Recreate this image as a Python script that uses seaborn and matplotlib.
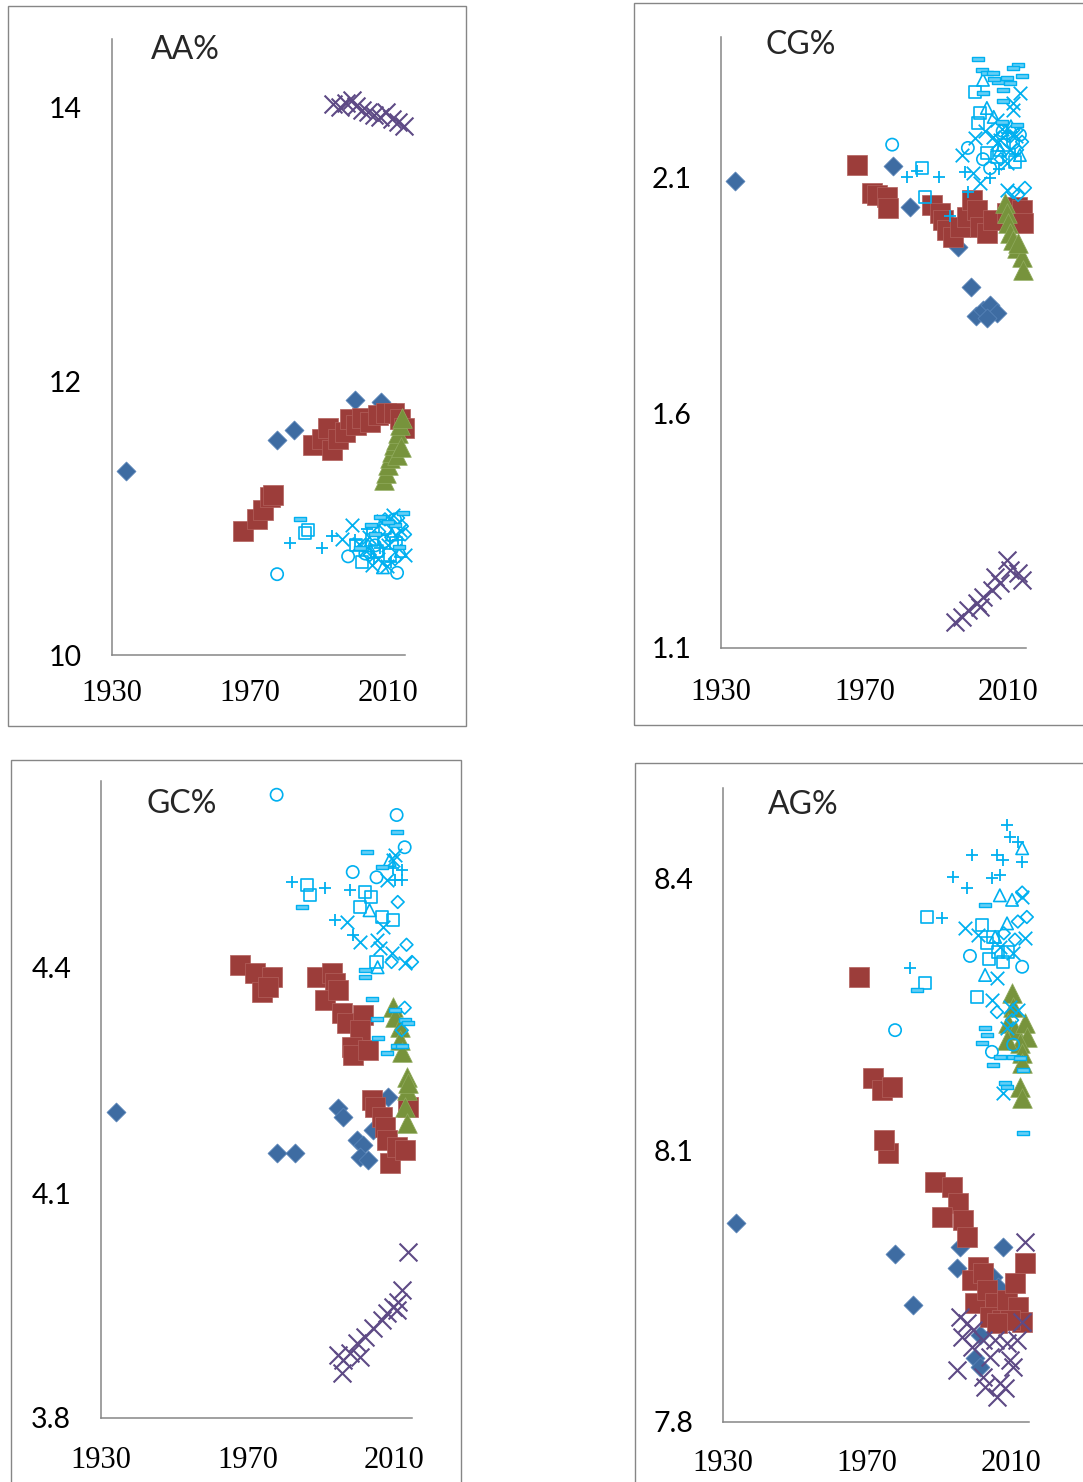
import matplotlib
matplotlib.use("Agg")
import matplotlib.pyplot as plt
from matplotlib.patches import Rectangle
from matplotlib.path import Path
import seaborn as sns

sns.set_style("white")
plt.rcParams["font.family"] = ["Lato", "DejaVu Sans"]

# ---------------------------------------------------------------- data
# each list holds (year, percent) pairs

# AA%
aa_diamond = [(1934.0, 11.34), (1977.9, 11.57), (1982.7, 11.64), (2000.6, 11.86), (2007.9, 11.85)]
aa_square = [(1968.0, 10.905), (1972.1, 10.99), (1973.8, 11.06), (1975.9, 11.15), (1976.7, 11.17),
             (1988.3, 11.53), (1990.9, 11.58), (1992.7, 11.66), (1993.8, 11.50), (1995.6, 11.58),
             (1997.6, 11.63), (1999.0, 11.72), (2000.8, 11.68), (2002.5, 11.73), (2004.8, 11.70),
             (2007.2, 11.75), (2009.5, 11.77), (2011.8, 11.77), (2013.5, 11.72), (2014.7, 11.66)]
aa_triangle = [(2008.9, 11.28), (2009.5, 11.33), (2010.1, 11.39), (2010.6, 11.44), (2011.2, 11.48),
               (2011.8, 11.53), (2012.4, 11.57), (2013.0, 11.62), (2013.5, 11.68), (2014.1, 11.73),
               (2012.7, 11.46), (2013.8, 11.52)]
aa_cross = [(1994.1, 14.02), (1996.1, 14.00), (1997.9, 14.03), (1999.6, 14.05), (2000.8, 14.01),
            (2002.5, 13.98), (2004.3, 13.96), (2006.0, 13.94), (2007.7, 13.93), (2009.5, 13.96),
            (2011.2, 13.91), (2013.0, 13.89), (2014.7, 13.86)]
aa_circle = [(1977.9, 10.59), (1998.5, 10.72), (2012.7, 10.60), (2006.3, 10.80), (2012.1, 10.99),
             (2003.5, 10.74), (2009.0, 10.83)]
aa_open_square = [(1986.0, 10.89), (1986.9, 10.91), (2002.5, 10.68), (2005.4, 10.84), (2009.2, 10.93),
                  (2010.6, 10.73), (2007.0, 10.76), (2012.5, 10.82), (2000.8, 10.80)]
aa_plus = [(1981.6, 10.82), (1990.9, 10.78), (1993.8, 10.87), (2000.5, 10.84), (2007.7, 10.78),
           (2013.0, 10.84), (2004.0, 10.92), (2010.8, 10.68), (2006.0, 10.71)]
aa_x = [(1999.6, 10.95), (1996.7, 10.85), (2003.4, 10.77), (2007.2, 10.70), (2010.1, 10.80),
        (2013.5, 10.91), (2011.5, 11.02), (2015.0, 10.73), (2005.5, 10.66), (2008.5, 10.98),
        (2001.8, 10.81), (2009.8, 10.65), (2004.6, 10.86)]
aa_open_diamond = [(2009.2, 10.99), (2014.1, 10.94), (2012.1, 10.70), (2004.8, 10.73), (2015.0, 10.88),
                   (2011.0, 10.86), (2007.5, 10.90), (2013.0, 11.00)]
aa_open_triangle = [(2008.6, 10.64), (2004.3, 10.80), (2011.2, 10.88), (2013.8, 10.76)]
aa_dash = [(1984.5, 10.99), (2007.7, 11.01), (2012.1, 10.95), (2014.4, 11.04), (2002.0, 10.78),
           (2006.3, 10.88), (2010.0, 10.97), (2013.2, 10.79), (2005.0, 10.95)]

# CG%
cg_diamond = [(1933.9, 2.094), (1977.9, 2.126), (1982.7, 2.038), (1996.0, 1.953), (1999.7, 1.868),
              (2001.1, 1.806), (2003.0, 1.819), (2005.0, 1.830), (2006.9, 1.813), (2004.1, 1.802)]
cg_square = [(1967.9, 2.128), (1972.1, 2.068), (1973.5, 2.064), (1976.3, 2.060), (1976.5, 2.036),
             (1988.8, 2.043), (1991.0, 2.026), (1991.9, 2.011), (1993.0, 1.990), (1994.7, 1.975),
             (1996.6, 1.996), (1998.6, 2.017), (2000.0, 2.053), (2001.3, 2.032), (2002.2, 1.996),
             (2004.1, 1.983), (2005.8, 2.011), (2009.7, 2.026), (2012.5, 2.038), (2013.9, 2.032),
             (2014.2, 2.004)]
cg_triangle = [(2009.2, 2.047), (2009.7, 2.026), (2010.0, 2.004), (2010.5, 1.983), (2011.4, 1.968),
               (2012.5, 1.951), (2013.9, 1.932), (2014.2, 1.904), (2012.8, 1.962)]
cg_cross = [(1995.2, 1.155), (1997.2, 1.166), (1998.8, 1.181), (2001.3, 1.196), (2003.0, 1.209),
            (2005.5, 1.223), (2007.8, 1.238), (2009.7, 1.287), (2010.5, 1.266), (2012.8, 1.260),
            (2013.9, 1.245), (2006.4, 1.251), (2002.2, 1.187)]
cg_circle = [(1977.7, 2.171), (1998.8, 2.164), (2005.0, 2.121), (2013.3, 2.192), (2011.4, 2.175),
             (2008.5, 2.200), (2003.0, 2.140)]
cg_open_square = [(2000.8, 2.283), (2002.2, 2.238), (2001.6, 2.217), (2004.1, 2.153), (1986.0, 2.121),
                  (1986.9, 2.060), (2006.9, 2.145), (2009.0, 2.170), (2011.8, 2.135)]
cg_plus = [(1981.8, 2.102), (1990.8, 2.102), (1998.0, 2.113), (1998.8, 2.070), (1993.8, 2.019),
           (2005.0, 2.100), (2009.7, 2.196), (1984.6, 2.115), (2007.5, 2.120), (2012.0, 2.150)]
cg_x = [(1997.2, 2.149), (2000.8, 2.185), (2000.2, 2.111), (2002.2, 2.090), (2013.3, 2.281),
        (2011.4, 2.260), (2011.4, 2.245), (2006.9, 2.224), (2005.8, 2.187), (2009.7, 2.075),
        (2007.8, 2.181), (2009.7, 2.132), (2006.9, 2.175), (2003.5, 2.200), (2010.5, 2.160),
        (2008.2, 2.205), (2012.3, 2.190)]
cg_open_diamond = [(2014.7, 2.079), (2012.8, 2.064), (2011.4, 2.070), (2013.9, 2.177), (2012.5, 2.160),
                   (2011.4, 2.202), (2008.0, 2.140), (2010.0, 2.190)]
cg_open_triangle = [(2003.0, 2.309), (2004.1, 2.249), (2013.3, 2.149), (2007.8, 2.160), (2010.8, 2.210),
                    (2006.0, 2.230)]
cg_dash = [(2001.6, 2.353), (2002.7, 2.330), (2004.1, 2.324), (2005.8, 2.324), (2012.8, 2.341),
           (2013.9, 2.317), (2007.2, 2.304), (2009.7, 2.313), (2010.5, 2.302), (2008.6, 2.287),
           (2003.0, 2.281), (2008.6, 2.264), (2012.5, 2.213), (2008.3, 2.219), (2006.0, 2.310),
           (2011.5, 2.335)]

# GC%
gc_diamond = [(1934.1, 4.208), (1978.0, 4.153), (1983.0, 4.153), (1994.7, 4.213), (1996.1, 4.201),
              (1999.9, 4.171), (2001.5, 4.164), (2000.7, 4.148), (2002.9, 4.144), (2004.3, 4.184),
              (2008.4, 4.228)]
gc_square = [(1968.0, 4.404), (1972.0, 4.393), (1974.0, 4.368), (1976.7, 4.388), (1975.6, 4.375),
             (1989.0, 4.388), (1993.1, 4.393), (1993.9, 4.380), (1991.2, 4.357), (1994.7, 4.371),
             (1995.8, 4.340), (1997.2, 4.327), (2001.5, 4.337), (2000.7, 4.317), (1998.5, 4.295),
             (1998.8, 4.284), (2002.9, 4.291), (2004.0, 4.224), (2004.8, 4.215), (2006.7, 4.201),
             (2007.5, 4.188), (2008.1, 4.171), (2008.9, 4.140), (2010.8, 4.161), (2013.0, 4.157),
             (2013.8, 4.215)]
gc_triangle = [(2009.7, 4.348), (2010.3, 4.335), (2011.6, 4.321), (2011.6, 4.304), (2012.2, 4.288),
               (2013.5, 4.255), (2013.5, 4.237), (2013.0, 4.215), (2013.5, 4.193), (2013.8, 4.247)]
gc_cross = [(2013.8, 4.021), (2012.4, 3.971), (2011.1, 3.955), (2009.7, 3.948), (2008.3, 3.940),
            (2006.7, 3.931), (2004.3, 3.920), (2002.1, 3.908), (1999.9, 3.900), (1998.0, 3.887),
            (1996.1, 3.877), (1994.7, 3.884), (1995.8, 3.860), (2000.7, 3.881), (2010.8, 3.944)]
gc_circle = [(1978.0, 4.631), (2010.8, 4.604), (2013.0, 4.561), (1998.8, 4.528), (2005.3, 4.521)]
gc_open_square = [(1986.2, 4.511), (1987.1, 4.497), (2002.1, 4.501), (2000.7, 4.481), (2006.7, 4.468),
                  (2009.7, 4.464), (2005.3, 4.408), (2003.8, 4.495)]
gc_plus = [(1982.1, 4.515), (1991.2, 4.507), (1998.0, 4.504), (1993.9, 4.464), (1998.8, 4.444),
           (2010.3, 4.517), (2012.4, 4.517), (2009.7, 4.533), (2012.2, 4.531)]
gc_x = [(1997.2, 4.461), (2000.7, 4.435), (2005.3, 4.437), (2007.0, 4.455), (2010.3, 4.551),
        (2009.7, 4.544), (2008.1, 4.517), (2009.4, 4.420), (2013.0, 4.407), (2006.2, 4.427)]
gc_open_diamond = [(2011.1, 4.488), (2015.0, 4.408), (2009.4, 4.408), (2013.0, 4.347), (2012.2, 4.317),
                   (2013.5, 4.431)]
gc_open_triangle = [(2003.4, 4.477), (2005.6, 4.401), (2008.9, 4.544)]
gc_dash = [(2010.8, 4.581), (2002.6, 4.555), (1984.9, 4.481), (2006.7, 4.535), (2002.1, 4.388),
           (2002.1, 4.397), (2004.0, 4.359), (2010.3, 4.344), (2005.3, 4.332), (2013.0, 4.331),
           (2013.8, 4.327), (2005.6, 4.307), (2010.8, 4.296), (2008.1, 4.287), (2012.2, 4.296)]

# AG%
ag_diamond = [(1933.6, 8.020), (1977.8, 7.986), (1982.8, 7.929), (1995.8, 7.993), (1995.0, 7.970),
              (2007.8, 7.993), (2005.0, 7.960), (2001.4, 7.896), (2000.0, 7.871), (2001.4, 7.861),
              (2006.4, 7.949)]
ag_square = [(1967.8, 8.292), (1971.7, 8.180), (1974.2, 8.167), (1976.9, 8.170), (1975.8, 8.097),
             (1974.7, 8.112), (1988.9, 8.065), (1993.6, 8.060), (1995.3, 8.042), (1990.8, 8.027),
             (1996.7, 8.023), (1997.8, 8.004), (2000.8, 7.971), (1999.2, 7.957), (2002.2, 7.965),
             (2000.0, 7.932), (2003.3, 7.946), (2005.6, 7.932), (2004.2, 7.916), (2007.5, 7.913),
             (2008.9, 7.935), (2011.1, 7.954), (2011.9, 7.927), (2013.9, 7.976), (2013.1, 7.911),
             (2009.7, 7.913), (2006.1, 7.909)]
ag_triangle = [(2010.3, 8.274), (2010.6, 8.259), (2009.2, 8.241), (2011.1, 8.233), (2013.9, 8.241),
               (2014.4, 8.225), (2012.5, 8.219), (2013.1, 8.208), (2013.1, 8.197), (2012.5, 8.170),
               (2013.1, 8.158), (2008.9, 8.222)]
ag_cross = [(2013.9, 7.999), (1995.8, 7.916), (1997.8, 7.909), (1999.4, 7.902), (1996.4, 7.894),
            (2013.1, 7.911), (2002.2, 7.891), (2005.6, 7.891), (2008.9, 7.887), (2011.7, 7.891),
            (1999.2, 7.883), (2004.2, 7.872), (2009.7, 7.869), (1995.0, 7.857), (2002.2, 7.850),
            (2010.6, 7.861), (2002.8, 7.839), (2006.1, 7.828), (2008.3, 7.838), (2006.9, 7.843)]
ag_circle = [(1977.8, 8.233), (1998.6, 8.315), (2013.1, 8.303), (2004.7, 8.209), (2010.6, 8.217)]
ag_open_square = [(1986.7, 8.358), (2001.9, 8.349), (2003.3, 8.329), (2005.0, 8.336), (2006.4, 8.319),
                  (2009.2, 8.319), (1986.1, 8.285), (2000.6, 8.270), (2007.8, 8.308), (2004.0, 8.312)]
ag_plus = [(2008.9, 8.460), (2009.7, 8.446), (2011.9, 8.441), (2013.1, 8.419), (1999.2, 8.427),
           (2006.1, 8.427), (2007.8, 8.421), (1993.9, 8.402), (1997.8, 8.390), (2004.7, 8.401),
           (2006.9, 8.404), (1990.8, 8.357), (1981.9, 8.302)]
ag_x = [(1997.2, 8.346), (2000.8, 8.338), (2013.9, 8.335), (2013.1, 8.380), (2006.1, 8.291),
        (2004.7, 8.266), (2010.6, 8.318), (2008.9, 8.235), (2007.8, 8.164), (2009.7, 8.259),
        (2011.9, 8.255), (2007.0, 8.325)]
ag_open_diamond = [(2013.1, 8.385), (2014.4, 8.358), (2011.9, 8.353), (2006.1, 8.253), (2010.3, 8.244),
                   (2011.1, 8.333), (2008.0, 8.340)]
ag_open_triangle = [(2013.1, 8.434), (2006.9, 8.382), (2010.3, 8.377), (2008.9, 8.351), (2002.8, 8.294),
                    (2005.6, 8.336)]
ag_dash = [(2002.8, 8.371), (2002.8, 8.235), (2003.3, 8.228), (2001.9, 8.219), (2005.0, 8.194),
           (2010.6, 8.203), (2012.5, 8.202), (2013.3, 8.189), (2008.3, 8.175), (2006.9, 8.203),
           (2008.9, 8.170), (2013.3, 8.119), (1983.9, 8.277)]

titles = ["AA%", "CG%", "GC%", "AG%"]
year_ticks = [1930, 1970, 2010]
aa_yticks = [10, 12, 14]
cg_yticks = [1.1, 1.6, 2.1]
gc_yticks = [3.8, 4.1, 4.4]
ag_yticks = [7.8, 8.1, 8.4]

# ---------------------------------------------------------------- styling
W, H = 1083, 1482
GRAY = "#868686"
BLUE, RED, GREEN, PURPLE, CYAN = "#3E6CA2", "#9C3D3A", "#77933C", "#5E4A85", "#00B0F0"

dash_marker = Path([(-1, -0.32), (1, -0.32), (1, 0.32), (-1, 0.32), (-1, -0.32)],
                   [Path.MOVETO, Path.LINETO, Path.LINETO, Path.LINETO, Path.CLOSEPOLY])

solid_styles = {
    "diamond": dict(marker="D", s=94, color=BLUE, edgecolor="#5B86BA", linewidth=0.5),
    "square": dict(marker="s", s=207, color=RED, edgecolor="#B2605C", linewidth=0.5),
    "triangle": dict(marker="^", s=200, color=GREEN, edgecolor="#91AB5E", linewidth=0.5),
    "cross": dict(marker="x", s=165, color=PURPLE, linewidth=1.5),
}
open_styles = {
    "circle": dict(marker="o", s=78, color=CYAN, facecolor="none", edgecolor=CYAN, linewidth=1.2),
    "open_square": dict(marker="s", s=75, color=CYAN, facecolor="none", edgecolor=CYAN, linewidth=1.2),
    "plus": dict(marker="+", s=85, color=CYAN, edgecolor=CYAN, linewidth=1.3),
    "x": dict(marker="x", s=95, color=CYAN, edgecolor=CYAN, linewidth=1.3),
    "open_diamond": dict(marker="D", s=42, color=CYAN, facecolor="none", edgecolor=CYAN, linewidth=1.2),
    "open_triangle": dict(marker="^", s=80, color=CYAN, facecolor="none", edgecolor=CYAN, linewidth=1.2),
    "dash": dict(marker=dash_marker, s=80, color=CYAN, facecolor="#66CEF5", edgecolor=CYAN, linewidth=1.0),
}

panels = [
    dict(title=titles[0], yticks=aa_yticks, ylim=(10, 14.5), axes=(112, 38.5, 405, 655),
         frame=(8, 6, 466, 726), title_xy=(185, 50), xpad=11,
         series=dict(diamond=aa_diamond, square=aa_square, triangle=aa_triangle, cross=aa_cross,
                     circle=aa_circle, open_square=aa_open_square, plus=aa_plus, x=aa_x,
                     open_diamond=aa_open_diamond, open_triangle=aa_open_triangle, dash=aa_dash)),
    dict(title=titles[1], yticks=cg_yticks, ylim=(1.1, 2.4), axes=(721, 37, 1026, 648),
         frame=(634, 3, 1095, 725), title_xy=(801, 45), xpad=15,
         series=dict(diamond=cg_diamond, square=cg_square, triangle=cg_triangle, cross=cg_cross,
                     circle=cg_circle, open_square=cg_open_square, plus=cg_plus, x=cg_x,
                     open_diamond=cg_open_diamond, open_triangle=cg_open_triangle, dash=cg_dash)),
    dict(title=titles[2], yticks=gc_yticks, ylim=(3.8, 4.65), axes=(101, 780.5, 412, 1418),
         frame=(11, 760, 461, 1495), title_xy=(182, 804), xpad=14,
         series=dict(diamond=gc_diamond, square=gc_square, triangle=gc_triangle, cross=gc_cross,
                     circle=gc_circle, open_square=gc_open_square, plus=gc_plus, x=gc_x,
                     open_diamond=gc_open_diamond, open_triangle=gc_open_triangle, dash=gc_dash)),
    dict(title=titles[3], yticks=ag_yticks, ylim=(7.8, 8.5), axes=(723, 788.5, 1029, 1422),
         frame=(635, 763, 1095, 1495), title_xy=(803, 805), xpad=13,
         series=dict(diamond=ag_diamond, square=ag_square, triangle=ag_triangle, cross=ag_cross,
                     circle=ag_circle, open_square=ag_open_square, plus=ag_plus, x=ag_x,
                     open_diamond=ag_open_diamond, open_triangle=ag_open_triangle, dash=ag_dash)),
]

fig = plt.figure(figsize=(W / 100, H / 100), dpi=100)


def add_px_axes(left, top, right, bottom):
    return fig.add_axes([left / W, 1 - bottom / H, (right - left) / W, (bottom - top) / H])


def draw_points(ax, pts, style, z):
    xs = [p[0] for p in pts]
    ys = [p[1] for p in pts]
    sns.scatterplot(x=xs, y=ys, ax=ax, legend=False, clip_on=False, zorder=z, **style)


for panel in panels:
    l, t, r, b = panel["frame"]
    fig.add_artist(Rectangle((l / W, 1 - b / H), (r - l) / W, (b - t) / H,
                             transform=fig.transFigure, fill=False, edgecolor=GRAY, linewidth=1.0))

    ax = add_px_axes(*panel["axes"])
    ax.set_facecolor("none")
    z = 3
    for name, style in solid_styles.items():
        draw_points(ax, panel["series"][name], style, z)
        z += 1
    for name, style in open_styles.items():
        draw_points(ax, panel["series"][name], style, z)
        z += 1

    ax.set_xlim(1930, 2015)
    ax.set_ylim(*panel["ylim"])
    ax.set_xticks(year_ticks)
    ax.set_xticklabels([str(v) for v in year_ticks], fontfamily="Liberation Serif", fontsize=22)
    ax.set_yticks(panel["yticks"])
    ax.set_yticklabels([f"{v:g}" for v in panel["yticks"]], fontsize=20.5)
    ax.set_xlabel("")
    ax.set_ylabel("")
    for side in ("top", "right"):
        ax.spines[side].set_visible(False)
    for side in ("left", "bottom"):
        ax.spines[side].set_color(GRAY)
        ax.spines[side].set_linewidth(1.1)
    ax.tick_params(axis="both", direction="out", length=6.5, width=1.1, color=GRAY, labelcolor="black")
    ax.tick_params(axis="y", pad=15)
    ax.tick_params(axis="x", pad=panel["xpad"])
    ax.grid(False)

    tx, ty = panel["title_xy"]
    fig.text(tx / W, 1 - ty / H, panel["title"], ha="center", va="center", fontsize=23)

fig.savefig("out.png", dpi=100, facecolor="white")
